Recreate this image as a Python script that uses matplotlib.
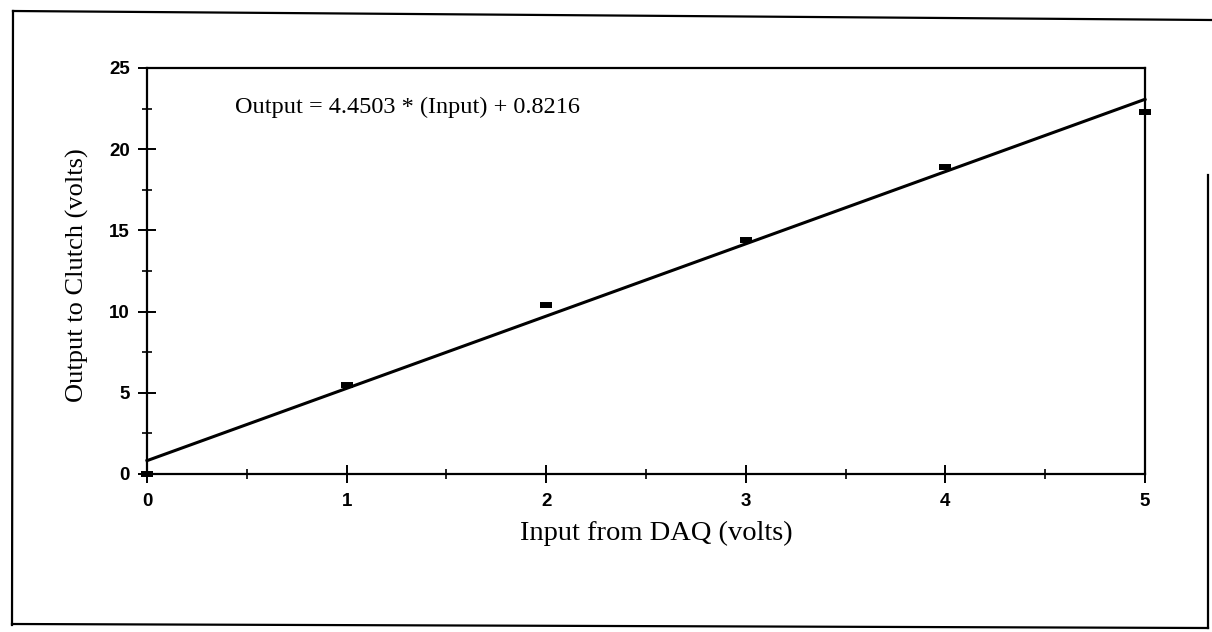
import matplotlib
matplotlib.use("Agg")
import matplotlib.pyplot as plt
from matplotlib.lines import Line2D
import numpy as np

input_volts = [0, 1, 2, 3, 4, 5]
output_volts = [0, 5.5, 10.4, 14.4, 18.9, 22.3]

# fit printed on the chart
fit_slope = 4.4503
fit_intercept = 0.8216

x_ticks = [0, 1, 2, 3, 4, 5]
y_ticks = [0, 5, 10, 15, 20, 25]

fig = plt.figure(figsize=(12.12, 6.32), dpi=100)
ax = fig.add_axes([147/1212, 1 - 474/632, 998/1212, 406/632])

# outer box around the whole figure
for (x0, y0, x1, y1) in [(13, 11, 12, 625), (13, 11, 1212, 20), (12, 624, 1208, 628), (1208, 175, 1208, 628)]:
    fig.add_artist(Line2D([x0/1212, x1/1212], [1 - y0/632, 1 - y1/632],
                          transform=fig.transFigure, color="black", lw=1.6))

fit_x = np.array([0, 5])
ax.plot(fit_x, fit_slope * fit_x + fit_intercept, color="black", lw=2.2, clip_on=False)
ax.plot(input_volts, output_volts, linestyle="none", marker="_", markersize=8,
        markeredgewidth=4.3, color="black", clip_on=False, zorder=5)

ax.set_xlim(0, 5)
ax.set_ylim(0, 25)
ax.set_xticks(x_ticks)
ax.set_yticks(y_ticks)
ax.set_xticks(np.arange(0, 5.01, 0.5), minor=True)
ax.set_yticks(np.arange(0, 25.01, 2.5), minor=True)

for s in ax.spines.values():
    s.set_linewidth(1.6)

ax.tick_params(which="major", direction="inout", length=13, width=1.4,
               labelsize=13.5, pad=6)
ax.tick_params(which="minor", direction="inout", length=7, width=1.2)
ax.tick_params(axis="x", which="major", pad=7)
for lab in ax.get_xticklabels() + ax.get_yticklabels():
    lab.set_fontfamily("Liberation Sans")
    lab.set_fontweight("bold")

ax.set_xlabel("Input from DAQ (volts)", fontfamily="Liberation Serif", fontsize=20.5)
ax.set_ylabel("Output to Clutch (volts)", fontfamily="Liberation Serif", fontsize=19)
ax.xaxis.set_label_coords(0.51, -0.115)
ax.yaxis.set_label_coords(-0.058, 0.49)

ax.text(0.088, 0.904, "Output = %.4f * (Input) + %.4f" % (fit_slope, fit_intercept),
        transform=ax.transAxes, fontfamily="Liberation Serif", fontsize=17.5,
        ha="left", va="center")

fig.savefig("out.png", dpi=100)
